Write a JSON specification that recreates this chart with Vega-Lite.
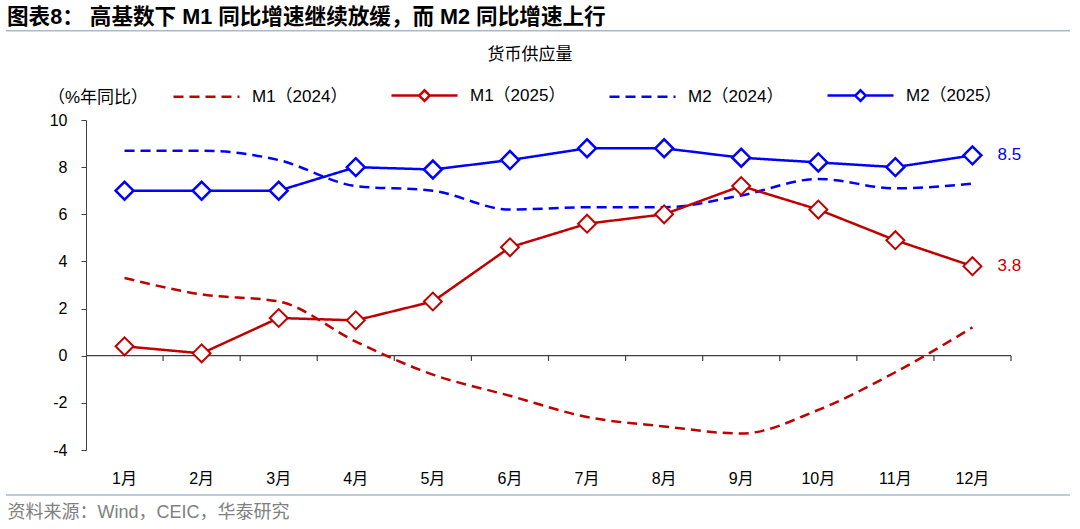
{
  "$schema": "https://vega.github.io/schema/vega-lite/v6.json",
  "width": 925,
  "height": 330,
  "autosize": {"type": "none"},
  "padding": {"left": 86, "top": 120, "right": 69, "bottom": 79},
  "background": "white",
  "title": {
    "text": "图表8： 高基数下 M1 同比增速继续放缓，而 M2 同比增速上行",
    "anchor": "start",
    "frame": "group",
    "dx": -79,
    "offset": 1,
    "fontSize": 21.6,
    "fontWeight": "bold",
    "color": "#000000"
  },
  "config": {
    "font": "Liberation Sans, Noto Sans CJK SC",
    "view": {"stroke": null},
    "axis": {"grid": false},
    "axisY": {
      "domainColor": "#404040",
      "tickColor": "#404040",
      "tickSize": 5,
      "tickCount": 7,
      "labelFontSize": 16,
      "labelColor": "#000000",
      "labelPadding": 14,
      "labelExpr": "'' + datum.value"
    }
  },
  "data": {
    "values": [
      {"month": "1月", "series": "M1（2024）", "value": 3.3},
      {"month": "2月", "series": "M1（2024）", "value": 2.6},
      {"month": "3月", "series": "M1（2024）", "value": 2.3},
      {"month": "4月", "series": "M1（2024）", "value": 0.6},
      {"month": "5月", "series": "M1（2024）", "value": -0.8},
      {"month": "6月", "series": "M1（2024）", "value": -1.7},
      {"month": "7月", "series": "M1（2024）", "value": -2.6},
      {"month": "8月", "series": "M1（2024）", "value": -3.0},
      {"month": "9月", "series": "M1（2024）", "value": -3.3},
      {"month": "10月", "series": "M1（2024）", "value": -2.3},
      {"month": "11月", "series": "M1（2024）", "value": -0.7},
      {"month": "12月", "series": "M1（2024）", "value": 1.2},
      {"month": "1月", "series": "M1（2025）", "value": 0.4},
      {"month": "2月", "series": "M1（2025）", "value": 0.1},
      {"month": "3月", "series": "M1（2025）", "value": 1.6},
      {"month": "4月", "series": "M1（2025）", "value": 1.5},
      {"month": "5月", "series": "M1（2025）", "value": 2.3},
      {"month": "6月", "series": "M1（2025）", "value": 4.6},
      {"month": "7月", "series": "M1（2025）", "value": 5.6},
      {"month": "8月", "series": "M1（2025）", "value": 6.0},
      {"month": "9月", "series": "M1（2025）", "value": 7.2},
      {"month": "10月", "series": "M1（2025）", "value": 6.2},
      {"month": "11月", "series": "M1（2025）", "value": 4.9},
      {"month": "12月", "series": "M1（2025）", "value": 3.8},
      {"month": "1月", "series": "M2（2024）", "value": 8.7},
      {"month": "2月", "series": "M2（2024）", "value": 8.7},
      {"month": "3月", "series": "M2（2024）", "value": 8.3},
      {"month": "4月", "series": "M2（2024）", "value": 7.2},
      {"month": "5月", "series": "M2（2024）", "value": 7.0},
      {"month": "6月", "series": "M2（2024）", "value": 6.2},
      {"month": "7月", "series": "M2（2024）", "value": 6.3},
      {"month": "8月", "series": "M2（2024）", "value": 6.3},
      {"month": "9月", "series": "M2（2024）", "value": 6.8},
      {"month": "10月", "series": "M2（2024）", "value": 7.5},
      {"month": "11月", "series": "M2（2024）", "value": 7.1},
      {"month": "12月", "series": "M2（2024）", "value": 7.3},
      {"month": "1月", "series": "M2（2025）", "value": 7.0},
      {"month": "2月", "series": "M2（2025）", "value": 7.0},
      {"month": "3月", "series": "M2（2025）", "value": 7.0},
      {"month": "4月", "series": "M2（2025）", "value": 8.0},
      {"month": "5月", "series": "M2（2025）", "value": 7.9},
      {"month": "6月", "series": "M2（2025）", "value": 8.3},
      {"month": "7月", "series": "M2（2025）", "value": 8.8},
      {"month": "8月", "series": "M2（2025）", "value": 8.8},
      {"month": "9月", "series": "M2（2025）", "value": 8.4},
      {"month": "10月", "series": "M2（2025）", "value": 8.2},
      {"month": "11月", "series": "M2（2025）", "value": 8.0},
      {"month": "12月", "series": "M2（2025）", "value": 8.5}
    ]
  },
  "resolve": {"scale": {"x": "independent"}},
  "layer": [
    {
      "layer": [
        {
          "transform": [{"filter": "datum.series == 'M1（2024）' && datum.month == '1月'"}],
          "mark": {"type": "rule", "color": "#404040", "strokeWidth": 1.2},
          "encoding": {
            "y": {"datum": 0, "type": "quantitative", "title": null}
          }
        },
        {
          "transform": [{"filter": "datum.series == 'M1（2024）'"}],
          "mark": {"type": "rule", "color": "#404040", "strokeWidth": 1.2},
          "encoding": {
            "x": {
              "field": "month", "type": "ordinal", "bandPosition": 1,
              "scale": {"type": "band", "domain": ["1月", "2月", "3月", "4月", "5月", "6月", "7月", "8月", "9月", "10月", "11月", "12月"], "paddingInner": 0, "paddingOuter": 0},
              "title": "资料来源：Wind，CEIC，华泰研究",
              "axis": {
                "orient": "bottom", "domain": false, "ticks": false, "tickSize": 0,
                "labelFontSize": 16, "labelColor": "#000000", "labelPadding": 20, "labelAngle": 0,
                "titleFontSize": 18, "titleFontWeight": "normal", "titleColor": "#808080",
                "titleAnchor": "start", "titleAlign": "left", "titleBaseline": "middle",
                "titleX": -79, "titleY": 62
              }
            },
            "y": {"datum": 0, "type": "quantitative", "title": null},
            "y2": {"datum": -0.22}
          }
        },
        {
          "transform": [{"filter": "indexof(datum.series, '2024') >= 0"}],
          "mark": {"type": "line", "interpolate": "monotone"},
          "encoding": {
            "x": {
              "field": "month", "type": "ordinal",
              "scale": {"type": "band", "domain": ["1月", "2月", "3月", "4月", "5月", "6月", "7月", "8月", "9月", "10月", "11月", "12月"], "paddingInner": 0, "paddingOuter": 0},
              "title": "资料来源：Wind，CEIC，华泰研究"
            },
            "y": {"field": "value", "type": "quantitative", "scale": {"domain": [-4, 10], "nice": false, "zero": false}, "title": null},
            "color": {
              "field": "series", "type": "nominal",
              "scale": {"domain": ["M1（2024）", "M1（2025）", "M2（2024）", "M2（2025）"], "range": ["#C00000", "#C00000", "#0000FF", "#0000FF"]},
              "legend": {
                "orient": "none", "legendX": -38, "legendY": -59, "direction": "horizontal",
                "title": "（%年同比）", "titleOrient": "left", "titleFontSize": 17, "titleFontWeight": "normal",
                "titleColor": "#000000", "titlePadding": 23, "titleAnchor": "middle", "titleBaseline": "middle",
                "labelFontSize": 17, "labelColor": "#000000", "labelOffset": 11,
                "symbolSize": 4356, "symbolFillColor": "white", "columnPadding": 38, "padding": 0,
                "encode": {
                  "title": {
                    "update": {"dy": {"value": 15}}
                  },
                  "symbols": {
                    "update": {
                      "shape": {"signal": "indexof(datum.value, '2025') >= 0 ? 'M-1,0H-0.16M0.16,0H1M0,-0.16L0.16,0L0,0.16L-0.16,0Z' : 'M-1,0H1'"},
                      "fill": {"value": "white"}
                    }
                  }
                }
              }
            },
            "strokeDash": {
              "field": "series", "type": "nominal",
              "scale": {"domain": ["M1（2024）", "M1（2025）", "M2（2024）", "M2（2025）"], "range": [[10, 6], [1, 0], [10, 6], [1, 0]]}
            },
            "strokeWidth": {
              "field": "series", "type": "nominal",
              "scale": {"domain": ["M1（2024）", "M1（2025）", "M2（2024）", "M2（2025）"], "range": [2.5, 2.5, 2.5, 4]}
            }
          }
        },
        {
          "transform": [{"filter": "indexof(datum.series, '2025') >= 0"}],
          "mark": {"type": "line"},
          "encoding": {
            "x": {
              "field": "month", "type": "ordinal",
              "scale": {"type": "band", "domain": ["1月", "2月", "3月", "4月", "5月", "6月", "7月", "8月", "9月", "10月", "11月", "12月"], "paddingInner": 0, "paddingOuter": 0},
              "title": "资料来源：Wind，CEIC，华泰研究"
            },
            "y": {"field": "value", "type": "quantitative", "title": null},
            "color": {"field": "series", "type": "nominal"},
            "strokeDash": {"field": "series", "type": "nominal"},
            "strokeWidth": {"field": "series", "type": "nominal"}
          }
        },
        {
          "transform": [{"filter": "datum.series == 'M1（2025）'"}],
          "mark": {"type": "point", "shape": "diamond", "size": 320, "filled": false, "fill": "white", "stroke": "#C00000", "strokeWidth": 2, "opacity": 1},
          "encoding": {
            "x": {
              "field": "month", "type": "ordinal",
              "scale": {"type": "band", "domain": ["1月", "2月", "3月", "4月", "5月", "6月", "7月", "8月", "9月", "10月", "11月", "12月"], "paddingInner": 0, "paddingOuter": 0},
              "title": "资料来源：Wind，CEIC，华泰研究"
            },
            "y": {"field": "value", "type": "quantitative", "title": null}
          }
        },
        {
          "transform": [{"filter": "datum.series == 'M2（2025）'"}],
          "mark": {"type": "point", "shape": "diamond", "size": 320, "filled": false, "fill": "white", "stroke": "#0000FF", "strokeWidth": 2.5, "opacity": 1},
          "encoding": {
            "x": {
              "field": "month", "type": "ordinal",
              "scale": {"type": "band", "domain": ["1月", "2月", "3月", "4月", "5月", "6月", "7月", "8月", "9月", "10月", "11月", "12月"], "paddingInner": 0, "paddingOuter": 0},
              "title": "资料来源：Wind，CEIC，华泰研究"
            },
            "y": {"field": "value", "type": "quantitative", "title": null}
          }
        },
        {
          "transform": [{"filter": "datum.series == 'M1（2025）' && datum.month == '12月'"}],
          "mark": {"type": "text", "align": "left", "baseline": "middle", "dx": 25, "fontSize": 17, "color": "#C00000"},
          "encoding": {
            "x": {
              "field": "month", "type": "ordinal",
              "scale": {"type": "band", "domain": ["1月", "2月", "3月", "4月", "5月", "6月", "7月", "8月", "9月", "10月", "11月", "12月"], "paddingInner": 0, "paddingOuter": 0},
              "title": "资料来源：Wind，CEIC，华泰研究"
            },
            "y": {"field": "value", "type": "quantitative", "title": null},
            "text": {"field": "value", "type": "quantitative", "format": ".1f"}
          }
        },
        {
          "transform": [{"filter": "datum.series == 'M2（2025）' && datum.month == '12月'"}],
          "mark": {"type": "text", "align": "left", "baseline": "middle", "dx": 25, "fontSize": 17, "color": "#0000FF"},
          "encoding": {
            "x": {
              "field": "month", "type": "ordinal",
              "scale": {"type": "band", "domain": ["1月", "2月", "3月", "4月", "5月", "6月", "7月", "8月", "9月", "10月", "11月", "12月"], "paddingInner": 0, "paddingOuter": 0},
              "title": "资料来源：Wind，CEIC，华泰研究"
            },
            "y": {"field": "value", "type": "quantitative", "title": null},
            "text": {"field": "value", "type": "quantitative", "format": ".1f"}
          }
        }
      ]
    },
    {
      "layer": [
        {
          "data": {"values": [{"line": "top"}]},
          "mark": {"type": "rule", "color": "#A9B9CC", "strokeWidth": 1.5},
          "encoding": {
            "x": {"datum": -0.0865, "type": "quantitative", "scale": {"domain": [0, 1], "nice": false}, "axis": null},
            "x2": {"datum": 1.0638},
            "y": {"datum": 13.79, "type": "quantitative", "title": null}
          }
        },
        {
          "data": {"values": [{"line": "bottom"}]},
          "mark": {"type": "rule", "color": "#A9B9CC", "strokeWidth": 1.5},
          "encoding": {
            "x": {"datum": -0.0865, "type": "quantitative", "axis": null},
            "x2": {"datum": 1.0638},
            "y": {"datum": -5.91, "type": "quantitative", "title": null}
          }
        },
        {
          "data": {"values": [{"label": "subtitle"}]},
          "mark": {"type": "text", "align": "center", "baseline": "middle", "fontSize": 17, "color": "#000000"},
          "encoding": {
            "x": {"datum": 0.48, "type": "quantitative", "axis": null},
            "y": {"datum": 12.76, "type": "quantitative", "title": null},
            "text": {"value": "货币供应量"}
          }
        }
      ]
    }
  ]
}
